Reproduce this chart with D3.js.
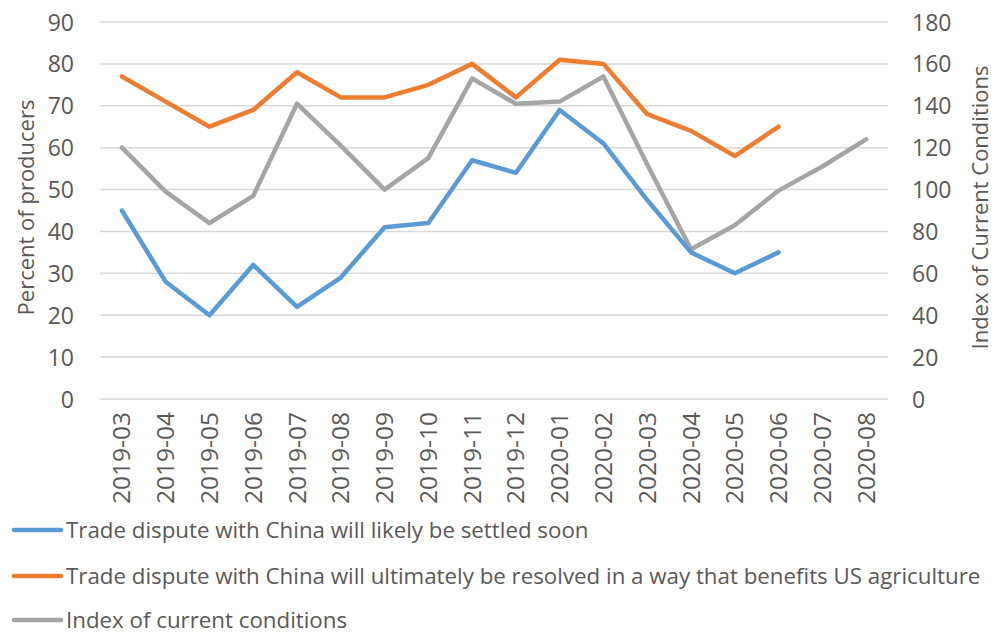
<!DOCTYPE html>
<html>
<head>
<meta charset="utf-8">
<script src="https://cdn.jsdelivr.net/npm/d3@7"></script>
<style>
  html, body { margin: 0; padding: 0; background: #fff; }
  svg text { font-family: "Open Sans", "Noto Sans", sans-serif; fill: #595959; }
</style>
</head>
<body>
<svg id="chart" width="996" height="634"></svg>
<script>
// Monthly survey readings
const months = ["2019-03","2019-04","2019-05","2019-06","2019-07","2019-08","2019-09","2019-10","2019-11","2019-12",
                "2020-01","2020-02","2020-03","2020-04","2020-05","2020-06","2020-07","2020-08"];
const settledSoon = [45, 28, 20, 32, 22, 29, 41, 42, 57, 54, 69, 61, 47.5, 35, 30, 35, null, null];
const benefitsAg  = [77, 71, 65, 69, 78, 72, 72, 75, 80, 72, 81, 80, 68, 64, 58, 65, null, null];
const currentIdx  = [120, 99, 84, 97, 141, 121, 100, 115, 153, 141, 142, 154, 112, 71.5, 83, 99.5, 111, 124];
const leftTicks  = [0, 10, 20, 30, 40, 50, 60, 70, 80, 90];
const rightTicks = [0, 20, 40, 60, 80, 100, 120, 140, 160, 180];

const seriesNames = [
  "Trade dispute with China will likely be settled soon",
  "Trade dispute with China will ultimately be resolved in a way that benefits US agriculture",
  "Index of current conditions"
];
const colors = ["#5b9bd5", "#ed7d31", "#a5a5a5"];

const svg = d3.select("#chart");
const plotLeft = 100, plotRight = 888, plotTop = 22, plotBottom = 399;

const x = d3.scaleBand().domain(months).range([plotLeft, plotRight]);
const yL = d3.scaleLinear().domain([0, 90]).range([plotBottom, plotTop]);
const yR = d3.scaleLinear().domain([0, 180]).range([plotBottom, plotTop]);

// gridlines
svg.append("g").selectAll("line").data(leftTicks).join("line")
  .attr("x1", plotLeft).attr("x2", plotRight)
  .attr("y1", d => yL(d)).attr("y2", d => yL(d))
  .attr("stroke", "#d9d9d9").attr("stroke-width", 1.5);

// left axis
const axL = svg.append("g").attr("transform", `translate(${plotLeft},0)`)
  .call(d3.axisLeft(yL).tickValues(leftTicks).tickSize(0).tickPadding(26));
axL.select(".domain").remove();
axL.selectAll("text").attr("font-size", 23).attr("fill", "#595959").attr("dy", "0.35em")
  .style("font-family", "'Open Sans', sans-serif");

// right axis
const axR = svg.append("g").attr("transform", `translate(${plotRight},0)`)
  .call(d3.axisRight(yR).tickValues(rightTicks).tickSize(0).tickPadding(24));
axR.select(".domain").remove();
axR.selectAll("text").attr("font-size", 23).attr("fill", "#595959").attr("dy", "0.35em")
  .style("font-family", "'Open Sans', sans-serif");

// bottom axis with rotated month labels
const axB = svg.append("g").attr("transform", `translate(0,${plotBottom})`)
  .call(d3.axisBottom(x).tickSize(0).tickPadding(0));
axB.select(".domain").remove();
axB.selectAll("text")
  .attr("font-size", 24.5).attr("fill", "#595959")
  .style("font-family", "'Open Sans', sans-serif")
  .attr("text-anchor", "end")
  .attr("transform", "translate(0,13) rotate(-90)")
  .attr("x", 0).attr("y", 0).attr("dy", "0.35em");

// axis titles
svg.append("text").attr("transform", `translate(26,${(98 + 317) / 2}) rotate(-90)`)
  .attr("text-anchor", "middle").attr("font-size", 22).attr("dy", "0.35em")
  .text("Percent of producers");
svg.append("text").attr("transform", `translate(980,${(62 + 353) / 2}) rotate(-90)`)
  .attr("text-anchor", "middle").attr("font-size", 22).attr("dy", "0.35em")
  .text("Index of Current Conditions");

// lines
const cx = d => x(d) + x.bandwidth() / 2;
function drawLine(values, yScale, color) {
  const line = d3.line()
    .defined(d => d.v != null)
    .x(d => cx(d.m)).y(d => yScale(d.v));
  svg.append("path")
    .datum(months.map((m, i) => ({ m, v: values[i] })))
    .attr("d", line).attr("fill", "none")
    .attr("stroke", color).attr("stroke-width", 4.5)
    .attr("stroke-linejoin", "round").attr("stroke-linecap", "round");
}
drawLine(currentIdx, yR, colors[2]);
drawLine(benefitsAg, yL, colors[1]);
drawLine(settledSoon, yL, colors[0]);

// legend
const legY = [530, 576, 620];
const leg = svg.append("g").selectAll("g").data(seriesNames).join("g")
  .attr("transform", (d, i) => `translate(0,${legY[i]})`);
leg.append("line").attr("x1", 14).attr("x2", 61).attr("y1", 0).attr("y2", 0)
  .attr("stroke", (d, i) => colors[i]).attr("stroke-width", 4.5).attr("stroke-linecap", "round");
leg.append("text").attr("x", 66).attr("y", 0).attr("dy", "0.35em")
  .attr("font-size", 22.3).text(d => d);
</script>
</body>
</html>
